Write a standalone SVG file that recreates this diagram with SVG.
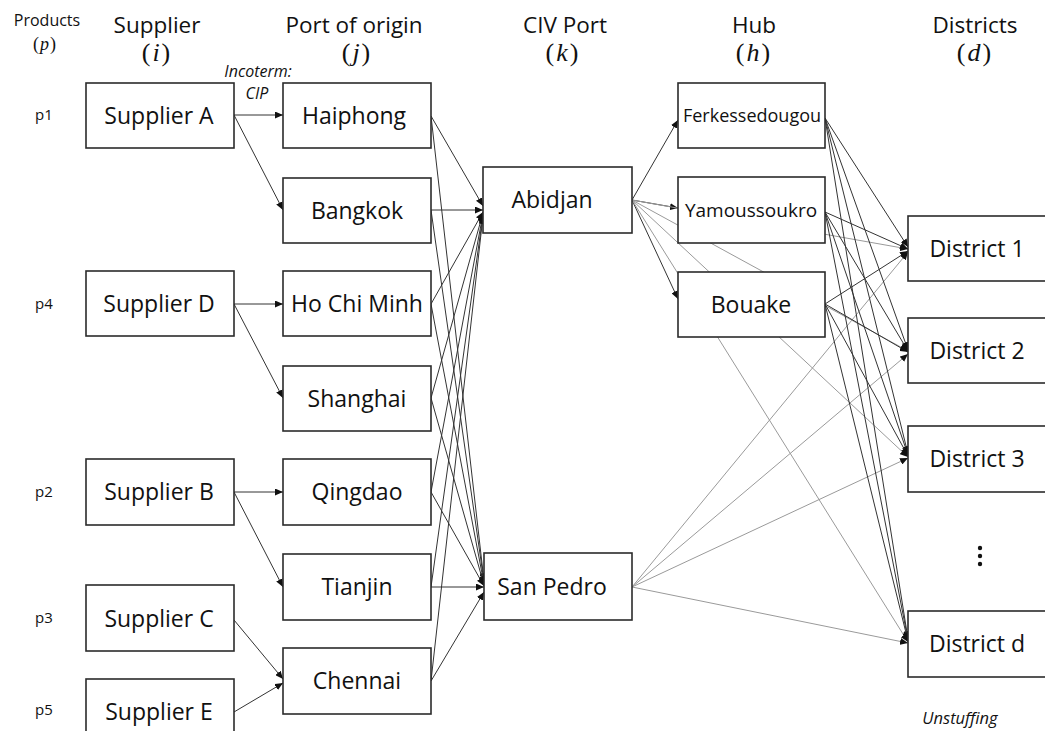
<svg xmlns="http://www.w3.org/2000/svg" width="1045" height="731" viewBox="0 0 1045 731">
<style>
.box{fill:#fff;stroke:#2b2b2b;stroke-width:1.6}
.t{font-family:"Open Sans","Noto Sans",sans-serif;font-size:23px;fill:#111;text-anchor:middle}
.hd{font-family:"Open Sans","Noto Sans",sans-serif;font-size:22.5px;fill:#111;text-anchor:middle}
.m{font-family:"Liberation Serif","DejaVu Serif",serif;font-size:26px;fill:#111;text-anchor:middle}
.sm{font-family:"Open Sans","Noto Sans",sans-serif;font-size:15px;fill:#111;text-anchor:middle}
.it{font-family:"Open Sans","Noto Sans",sans-serif;font-size:16px;font-style:italic;fill:#111;text-anchor:middle}
.d{stroke:#333;stroke-width:1;fill:none;marker-end:url(#ah)}
.g{stroke:#9a9a9a;stroke-width:1;fill:none;marker-end:url(#ah)}
</style>
<defs>
<marker id="ah" markerUnits="userSpaceOnUse" markerWidth="8" markerHeight="7" refX="8" refY="3.5" orient="auto">
<path d="M0,0 L8,3.5 L0,7 z" fill="#111"/>
</marker>
</defs>
<rect width="1045" height="731" fill="#fff"/>

<!-- headers -->
<g id="headers">
<text class="sm" x="47" y="26" style="font-size:16px">Products</text>
<text class="m" x="45" y="50" style="font-size:18px" letter-spacing="1">(<tspan font-style="italic">p</tspan>)</text>
<text class="hd" x="157" y="33">Supplier</text>
<text class="m" x="157" y="61" letter-spacing="2">(<tspan font-style="italic">i</tspan>)</text>
<text class="hd" x="354" y="33">Port of origin</text>
<text class="m" x="357" y="61" letter-spacing="2">(<tspan font-style="italic">j</tspan>)</text>
<text class="hd" x="565" y="33">CIV Port</text>
<text class="m" x="563" y="61" letter-spacing="2">(<tspan font-style="italic">k</tspan>)</text>
<text class="hd" x="754" y="33">Hub</text>
<text class="m" x="754" y="61" letter-spacing="2">(<tspan font-style="italic">h</tspan>)</text>
<text class="hd" x="975" y="33">Districts</text>
<text class="m" x="975" y="61" letter-spacing="2">(<tspan font-style="italic">d</tspan>)</text>
<text class="it" x="258" y="77">Incoterm:</text>
<text class="it" x="257" y="99">CIP</text>
<text class="sm" x="44" y="120">p1</text>
<text class="sm" x="44" y="309">p4</text>
<text class="sm" x="44" y="497">p2</text>
<text class="sm" x="44" y="623">p3</text>
<text class="sm" x="44" y="715">p5</text>
<text class="it" x="960" y="724" style="font-size:16.5px">Unstuffing</text>
<circle cx="980" cy="548" r="2.2" fill="#111"/>
<circle cx="980" cy="556" r="2.2" fill="#111"/>
<circle cx="980" cy="564" r="2.2" fill="#111"/>
</g>

<!-- connectors -->
<g id="connectors">
<!-- suppliers to ports -->
<line class="d" x1="234" y1="115" x2="283" y2="115"/>
<line class="d" x1="234" y1="115" x2="283" y2="210"/>
<line class="d" x1="234" y1="304" x2="283" y2="304"/>
<line class="d" x1="234" y1="304" x2="283" y2="398"/>
<line class="d" x1="234" y1="492" x2="283" y2="492"/>
<line class="d" x1="234" y1="492" x2="283" y2="587"/>
<line class="d" x1="234" y1="620" x2="283" y2="679"/>
<line class="d" x1="234" y1="712" x2="283" y2="683"/>
<!-- ports to Abidjan -->
<line class="d" x1="431" y1="116" x2="483" y2="206"/>
<line class="d" x1="431" y1="210" x2="483" y2="210"/>
<line class="d" x1="431" y1="304" x2="483" y2="212"/>
<line class="d" x1="431" y1="398" x2="483" y2="213"/>
<line class="d" x1="431" y1="492" x2="483" y2="214"/>
<line class="d" x1="431" y1="587" x2="483" y2="215"/>
<line class="d" x1="431" y1="681" x2="483" y2="216"/>
<!-- ports to San Pedro -->
<line class="d" x1="431" y1="116" x2="484" y2="581"/>
<line class="d" x1="431" y1="210" x2="484" y2="582"/>
<line class="d" x1="431" y1="304" x2="484" y2="584"/>
<line class="d" x1="431" y1="398" x2="484" y2="585"/>
<line class="d" x1="431" y1="492" x2="484" y2="586"/>
<line class="d" x1="431" y1="587" x2="484" y2="587"/>
<line class="d" x1="431" y1="681" x2="484" y2="592"/>
<!-- Abidjan to hubs -->
<line class="d" x1="632" y1="200" x2="678" y2="120"/>
<line class="d" x1="632" y1="200" x2="678" y2="208"/>
<line class="d" x1="632" y1="200" x2="678" y2="299"/>
<!-- Abidjan to districts (gray) -->
<line class="g" x1="632" y1="200" x2="908" y2="249"/>
<line class="g" x1="632" y1="200" x2="908" y2="351"/>
<line class="g" x1="632" y1="200" x2="908" y2="457"/>
<line class="g" x1="632" y1="200" x2="908" y2="642"/>
<!-- San Pedro to districts (gray) -->
<line class="g" x1="632" y1="587" x2="908" y2="252"/>
<line class="g" x1="632" y1="587" x2="908" y2="354"/>
<line class="g" x1="632" y1="587" x2="908" y2="458"/>
<line class="g" x1="632" y1="587" x2="908" y2="643"/>
<!-- hubs to districts -->
<line class="d" x1="825" y1="118" x2="908" y2="247"/>
<line class="d" x1="825" y1="118" x2="908" y2="350"/>
<line class="d" x1="825" y1="118" x2="908" y2="454"/>
<line class="d" x1="825" y1="118" x2="908" y2="639"/>
<line class="d" x1="825" y1="212" x2="908" y2="249"/>
<line class="d" x1="825" y1="212" x2="908" y2="351"/>
<line class="d" x1="825" y1="212" x2="908" y2="455"/>
<line class="d" x1="825" y1="212" x2="908" y2="640"/>
<line class="d" x1="825" y1="304" x2="908" y2="251"/>
<line class="d" x1="825" y1="304" x2="908" y2="352"/>
<line class="d" x1="825" y1="304" x2="908" y2="456"/>
<line class="d" x1="825" y1="304" x2="908" y2="641"/>
</g>

<!-- suppliers -->
<g id="supplierA"><rect class="box" x="86" y="83" width="148" height="65"/><text class="t" x="159" y="124">Supplier A</text></g>
<g id="supplierD"><rect class="box" x="86" y="271" width="148" height="65"/><text class="t" x="159" y="312">Supplier D</text></g>
<g id="supplierB"><rect class="box" x="86" y="459" width="148" height="66"/><text class="t" x="159" y="500">Supplier B</text></g>
<g id="supplierC"><rect class="box" x="86" y="585" width="148" height="66"/><text class="t" x="159" y="627">Supplier C</text></g>
<g id="supplierE"><rect class="box" x="86" y="679" width="148" height="68"/><text class="t" x="159" y="720">Supplier E</text></g>

<!-- ports of origin -->
<g id="haiphong"><rect class="box" x="283" y="83" width="148" height="65"/><text class="t" x="354" y="124">Haiphong</text></g>
<g id="bangkok"><rect class="box" x="283" y="178" width="148" height="65"/><text class="t" x="357" y="219">Bangkok</text></g>
<g id="hochiminh"><rect class="box" x="283" y="271" width="148" height="65"/><text class="t" x="357" y="312">Ho Chi Minh</text></g>
<g id="shanghai"><rect class="box" x="283" y="366" width="148" height="65"/><text class="t" x="357" y="407">Shanghai</text></g>
<g id="qingdao"><rect class="box" x="283" y="459" width="148" height="66"/><text class="t" x="357" y="500">Qingdao</text></g>
<g id="tianjin"><rect class="box" x="283" y="554" width="148" height="66"/><text class="t" x="357" y="595">Tianjin</text></g>
<g id="chennai"><rect class="box" x="283" y="648" width="148" height="66"/><text class="t" x="357" y="689">Chennai</text></g>

<!-- CIV ports -->
<g id="abidjan"><rect class="box" x="483" y="167" width="149" height="66"/><text class="t" x="552" y="208">Abidjan</text></g>
<g id="sanpedro"><rect class="box" x="484" y="553" width="148" height="67"/><text class="t" x="552" y="595">San Pedro</text></g>

<!-- hubs -->
<g id="ferkessedougou"><rect class="box" x="678" y="83" width="147" height="65"/><text class="t" x="752" y="122" style="font-size:18px">Ferkessedougou</text></g>
<g id="yamoussoukro"><rect class="box" x="678" y="177" width="147" height="66"/><text class="t" x="751" y="217" style="font-size:19px">Yamoussoukro</text></g>
<g id="bouake"><rect class="box" x="678" y="272" width="147" height="65"/><text class="t" x="751" y="313">Bouake</text></g>

<!-- districts -->
<g id="district1"><rect class="box" x="908" y="216" width="150" height="65"/><text class="t" x="977" y="257">District 1</text></g>
<g id="district2"><rect class="box" x="908" y="318" width="150" height="65"/><text class="t" x="977" y="359">District 2</text></g>
<g id="district3"><rect class="box" x="908" y="426" width="150" height="66"/><text class="t" x="977" y="467">District 3</text></g>
<g id="districtd"><rect class="box" x="908" y="611" width="150" height="66"/><text class="t" x="977" y="652">District d</text></g>
</svg>
